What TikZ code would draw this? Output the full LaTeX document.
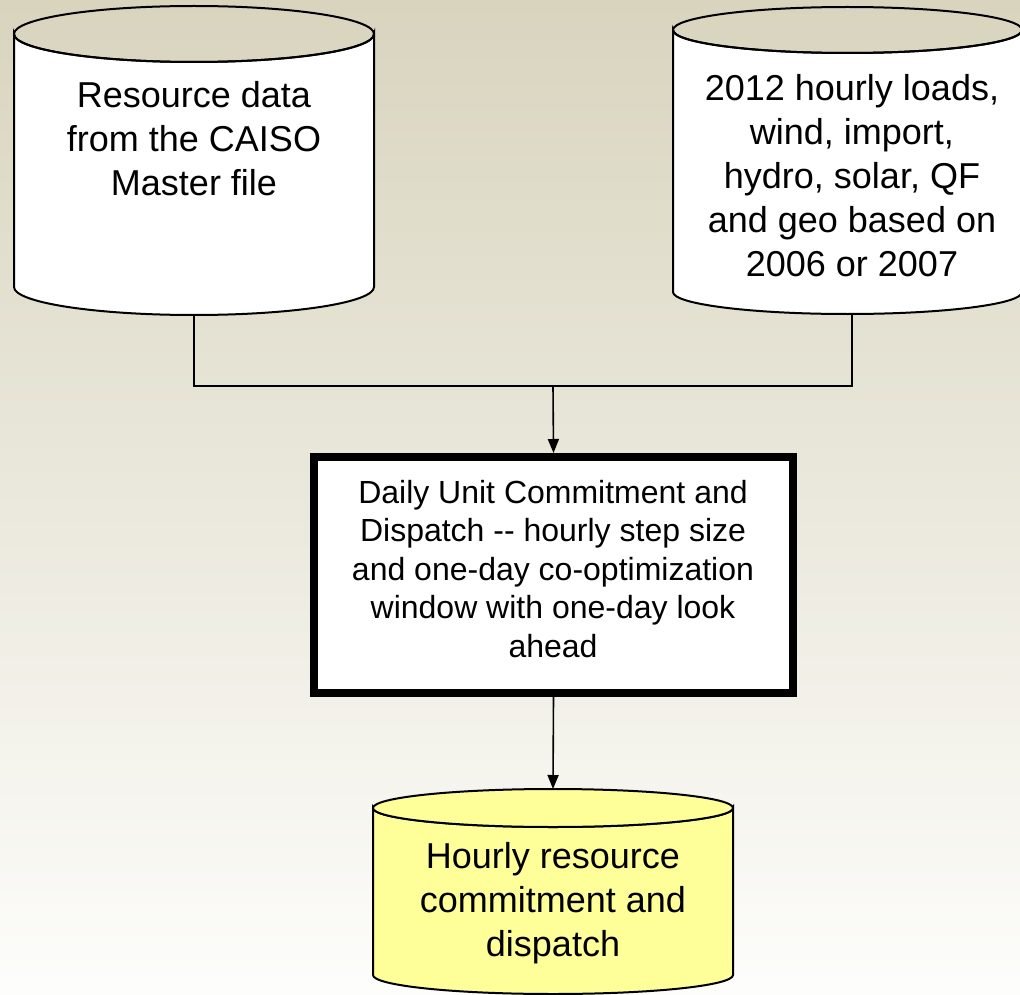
\documentclass[tikz,border=0pt]{standalone}
\usepackage{fontspec}
\setmainfont{Liberation Sans}
\usetikzlibrary{arrows.meta}
\definecolor{bgtop}{HTML}{D8D4BE}
\definecolor{bgbot}{HTML}{FDFDFB}
\definecolor{outfill}{HTML}{FFFF99}
\tikzset{
  cylline/.style={draw=black, line width=2pt},
  bigtext/.style={align=center, font=\fontsize{36}{44}\selectfont, inner sep=0pt},
  boxtext/.style={align=center, font=\fontsize{32}{38.5}\selectfont, inner sep=0pt},
  flow/.style={line width=1.6pt, -{Triangle[length=14pt,width=11pt]}},
  joinline/.style={line width=1.6pt},
}
\begin{document}
\begin{tikzpicture}[x=1pt, y=-1pt]
  % page and background
  \useasboundingbox (0,0) rectangle (1020,995);
  \shade[top color=bgtop, bottom color=bgbot] (0,0) rectangle (1020,995);

  % left data store
  \path[cylline, fill=white] (14,34) -- (14,287)
     arc[start angle=180, end angle=0, x radius=180, y radius=28]
     -- (374,34) arc[start angle=0, end angle=180, x radius=180, y radius=28] -- cycle;
  \draw[cylline] (194,34) ellipse[x radius=180, y radius=28];
  \node[bigtext] (src) at (194,139) {Resource data\\from the CAISO\\Master file};
  \coordinate (srcB) at (194,315);

  % right data store
  \path[cylline, fill=white] (673,30) -- (673,292)
     arc[start angle=180, end angle=0, x radius=174.5, y radius=22]
     -- (1022,30) arc[start angle=0, end angle=180, x radius=174.5, y radius=23] -- cycle;
  \draw[cylline] (847.5,30) ellipse[x radius=174.5, y radius=23];
  \node[bigtext] (loads) at (852,176) {2012 hourly loads,\\wind, import,\\hydro, solar, QF\\and geo based on\\2006 or 2007};
  \coordinate (loadsB) at (852,314);

  % merge point
  \coordinate (join) at (553,386);

  % process box
  \node[draw=black, line width=8pt, fill=white, minimum width=479pt, minimum height=236pt, inner sep=0pt] (ucd) at (553.5,575) {};
  \node[boxtext] (ucdtext) at (553,569) {Daily Unit Commitment and\\Dispatch -{}- hourly step size\\and one-day co-optimization\\window with one-day look\\ahead};

  % output data store
  \path[cylline, fill=outfill] (373,808) -- (373,975)
     arc[start angle=180, end angle=0, x radius=180, y radius=19]
     -- (733,808) arc[start angle=0, end angle=180, x radius=180, y radius=19] -- cycle;
  \draw[cylline, fill=outfill] (553,808) ellipse[x radius=180, y radius=19];
  \node[bigtext] (out) at (553,903) {Hourly resource\\commitment and\\dispatch};
  \coordinate (outT) at (553,789);

  % connectors
  \draw[joinline] (srcB) |- (join);
  \draw[joinline] (loadsB) |- (join);
  \draw[flow] (join) -- (ucd.north);
  \draw[flow] (ucd.south) -- (outT);
\end{tikzpicture}
\end{document}
